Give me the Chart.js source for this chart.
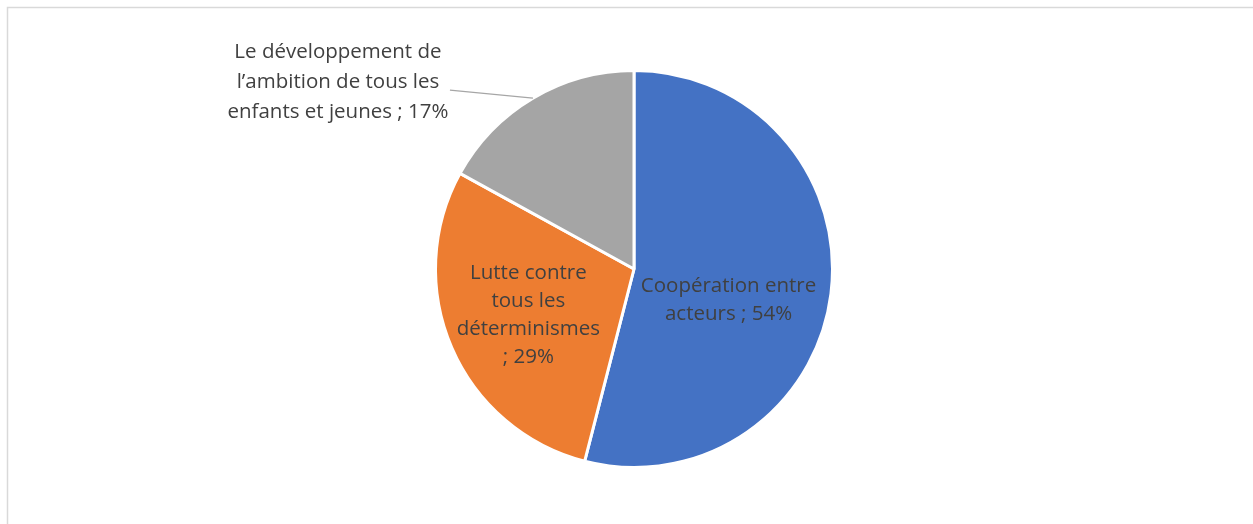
<!DOCTYPE html>
<html>
<head>
<meta charset="utf-8">
<script src="https://cdn.jsdelivr.net/npm/chart.js@4/dist/chart.umd.min.js"></script>
<style>
  html, body { margin: 0; padding: 0; background: #fff; }
  #wrap { width: 1253px; height: 524px; position: relative; }
</style>
</head>
<body>
<div id="wrap"><canvas id="pie"></canvas></div>
<script>
// chart data
const categories = [
  ['Coopération entre', 'acteurs ; 54%'],
  ['Lutte contre', 'tous les', 'déterminismes', '; 29%'],
  ['Le développement de', 'l’ambition de tous les', 'enfants et jeunes ; 17%']
];
const shares = [54, 29, 17];
const sliceColors = ['#4472C4', '#ED7D31', '#A5A5A5'];

const FONT = '20.5px "Open Sans", "Noto Sans", sans-serif';
const TEXT_COLOR = '#404040';

// frame lines (top + left) like the source document
const framePlugin = {
  id: 'frame',
  beforeDraw(chart) {
    const ctx = chart.ctx;
    ctx.save();
    ctx.strokeStyle = '#d9d9d9';
    ctx.lineWidth = 1.5;
    ctx.beginPath();
    ctx.moveTo(7.5, chart.height);
    ctx.lineTo(7.5, 7.5);
    ctx.lineTo(chart.width, 7.5);
    ctx.stroke();
    ctx.restore();
  }
};

// data labels: two inside, one outside with a leader line
const labelPlugin = {
  id: 'sliceLabels',
  afterDatasetsDraw(chart) {
    const ctx = chart.ctx;
    const arcs = chart.getDatasetMeta(0).data;
    ctx.save();
    ctx.font = FONT;
    ctx.fillStyle = TEXT_COLOR;
    ctx.textAlign = 'center';
    ctx.textBaseline = 'middle';

    arcs.forEach((arc, i) => {
      const mid = (arc.startAngle + arc.endAngle) / 2;
      const lines = categories[i];
      let cx, cy, lineH = 28;
      if (i < 2) {
        const frac = i === 0 ? 0.48 : 0.58;
        cx = arc.x + Math.cos(mid) * arc.outerRadius * frac;
        cy = arc.y + Math.sin(mid) * arc.outerRadius * frac + (i === 0 ? 19 : 0);
      } else {
        // leader line from the slice edge out to the label
        const ex = arc.x + Math.cos(mid) * arc.outerRadius;
        const ey = arc.y + Math.sin(mid) * arc.outerRadius;
        const lx = ex - 83, ly = ey - 8;
        ctx.strokeStyle = '#a6a6a6';
        ctx.lineWidth = 1.3;
        ctx.beginPath();
        ctx.moveTo(ex, ey);
        ctx.lineTo(lx, ly);
        ctx.stroke();
        cx = lx - 112;
        cy = ly - 8;
        lineH = 30;
      }
      const top = cy - (lines.length - 1) * lineH / 2;
      lines.forEach((t, k) => ctx.fillText(t, cx, top + k * lineH));
    });
    ctx.restore();
  }
};

new Chart(document.getElementById('pie'), {
  type: 'pie',
  data: {
    labels: categories.map(l => l.join(' ')),
    datasets: [{
      data: shares,
      backgroundColor: sliceColors,
      borderColor: '#ffffff',
      borderWidth: 3
    }]
  },
  options: {
    responsive: true,
    maintainAspectRatio: false,
    animation: false,
    layout: { padding: { top: 69, bottom: 55, left: 200, right: 185 } },
    plugins: {
      legend: { display: false },
      tooltip: { enabled: false }
    }
  },
  plugins: [framePlugin, labelPlugin]
});
</script>
</body>
</html>
